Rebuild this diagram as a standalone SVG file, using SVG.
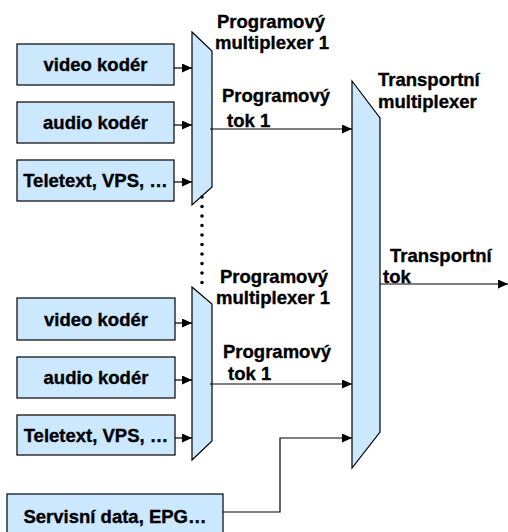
<svg xmlns="http://www.w3.org/2000/svg" width="508" height="532" viewBox="0 0 508 532">
<style>
.box{fill:#cce8ff;stroke:#000;stroke-width:1.2}
.mux{fill:#cce8ff;stroke:#000;stroke-width:1.2}
.t{font-family:"Liberation Sans",Arial,sans-serif;font-weight:bold;font-size:18.5px;fill:#000;stroke:#000;stroke-width:0.35}
.c{text-anchor:middle}
.ln{fill:none;stroke:#000;stroke-width:1.2}
</style>
<defs>
<marker id="ah" markerWidth="10" markerHeight="9" refX="10" refY="4.5" orient="auto" markerUnits="userSpaceOnUse">
<path d="M0,0 L10,4.5 L0,9 Z" fill="#000"/>
</marker>
</defs>
<rect width="508" height="532" fill="#fff"/>

<g id="video1"><rect class="box" x="17" y="44" width="157" height="41"/><text class="t c" x="95.5" y="71">video kodér</text></g>
<g id="audio1"><rect class="box" x="17" y="102" width="157" height="41"/><text class="t c" x="95.5" y="129">audio kodér</text></g>
<g id="teletext1"><rect class="box" x="17" y="160" width="157" height="41"/><text class="t c" x="95.5" y="187">Teletext, VPS, …</text></g>

<g id="mux1"><path class="mux" d="M192,32 L212,51 L212,187 L192,205 Z"/>
<text class="t" x="217" y="28">Programový</text>
<text class="t" x="215" y="48.5">multiplexer 1</text></g>

<g id="video2"><rect class="box" x="17" y="298" width="158" height="42"/><text class="t c" x="96" y="325.5">video kodér</text></g>
<g id="audio2"><rect class="box" x="17" y="357" width="158" height="41"/><text class="t c" x="96" y="384">audio kodér</text></g>
<g id="teletext2"><rect class="box" x="17" y="415" width="158" height="40"/><text class="t c" x="96" y="441.5">Teletext, VPS, …</text></g>

<g id="mux2"><path class="mux" d="M192,287 L212,304 L212,441 L192,460 Z"/>
<text class="t" x="220" y="283">Programový</text>
<text class="t" x="216" y="304">multiplexer 1</text></g>

<g id="servis"><rect class="box" x="7" y="494" width="216" height="44"/><text class="t c" x="115" y="523">Servisní data, EPG…</text></g>

<g id="tmux"><path class="mux" d="M352,81 L380,118 L380,432 L352,468 Z"/>
<text class="t" x="378" y="86">Transportní</text>
<text class="t" x="378" y="108">multiplexer</text></g>

<g id="connectors">
<line class="ln" x1="174" y1="68" x2="192" y2="68" marker-end="url(#ah)"/>
<line class="ln" x1="174" y1="125" x2="192" y2="125" marker-end="url(#ah)"/>
<line class="ln" x1="174" y1="182" x2="192" y2="182" marker-end="url(#ah)"/>
<line class="ln" x1="175" y1="323" x2="192" y2="323" marker-end="url(#ah)"/>
<line class="ln" x1="175" y1="380" x2="192" y2="380" marker-end="url(#ah)"/>
<line class="ln" x1="175" y1="438" x2="192" y2="438" marker-end="url(#ah)"/>
<line class="ln" x1="210" y1="129" x2="352" y2="129" marker-end="url(#ah)"/>
<line class="ln" x1="210" y1="384" x2="352" y2="384" marker-end="url(#ah)"/>
<polyline class="ln" points="223,512 280,512 280,438 352,438" marker-end="url(#ah)"/>
<line class="ln" x1="380" y1="284" x2="508" y2="284" marker-end="url(#ah)"/>
<line x1="202" y1="197" x2="202" y2="283" stroke="#000" stroke-width="3.6" stroke-linecap="round" stroke-dasharray="0 9.5"/>
<text class="t" x="222" y="101.5">Programový</text>
<text class="t" x="227" y="126.5">tok 1</text>
<text class="t" x="223" y="358">Programový</text>
<text class="t" x="228" y="379.5">tok 1</text>
<text class="t" x="390" y="261.5">Transportní</text>
<text class="t" x="383" y="283">tok</text>
</g>
</svg>
